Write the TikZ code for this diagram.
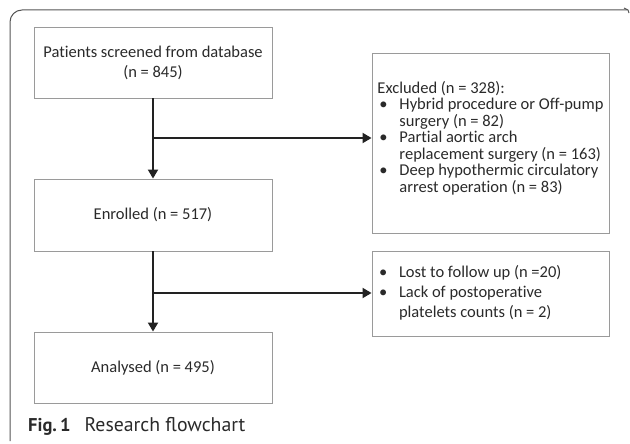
\documentclass[tikz,border=0pt]{standalone}
\usepackage{fontspec}
\setmainfont{Carlito}[Ligatures=NoCommon]
\newfontfamily\capfont{PT Sans}
\usetikzlibrary{arrows.meta}
\definecolor{txt}{HTML}{2A2A2A}
\definecolor{boxline}{HTML}{9A9A9A}
\definecolor{arrowc}{HTML}{222222}
\definecolor{framec}{HTML}{555555}
\newcommand{\bl}{\makebox[22pt][l]{\hspace{2pt}•}}
\newcommand{\ind}{\hspace{22pt}}
\tikzset{
  flowbox/.style={draw=boxline, line width=0.9pt, text=txt, font=\fontsize{16.5}{20}\selectfont,
    minimum width=238pt, align=center, inner sep=0pt},
  sidebox/.style={draw=boxline, line width=0.9pt, text=txt,
    minimum width=237pt, inner sep=0pt},
  flowarrow/.style={draw=arrowc, line width=2pt, -{Triangle[length=9pt,width=10pt]}},
  frameline/.style={draw=framec, line width=1pt},
}
\begin{document}
\begin{tikzpicture}[x=1pt,y=-1pt]
\useasboundingbox (0,0) rectangle (630,444);
% open frame
\draw[frameline, rounded corners=12pt] (10,441) -- (10,10) -- (627,10);
\draw[frameline] (624,8) -- (628,10) -- (629,13);
% main boxes
\node[flowbox, minimum height=71pt] (screen) at (153,62.5) {Patients screened from database\\(n = 845)};
\node[flowbox, minimum height=72pt] (enrol) at (153,215) {Enrolled (n = 517)};
\node[flowbox, minimum height=71pt] (anal) at (153,367.5) {Analysed (n = 495)};
% side boxes
\node[sidebox, minimum height=180pt, font=\fontsize{16.5}{15.8}\selectfont] (excl) at (490.5,143) {\raisebox{3.5pt}[\height][\depth]{\begin{tabular}{@{}l@{}}Excluded (n = 328):\\
\bl Hybrid procedure or Off-pump\\
\ind surgery (n = 82)\\
\bl Partial aortic arch\\
\ind replacement surgery (n = 163)\\
\bl Deep hypothermic circulatory\\
\ind arrest operation (n = 83)\end{tabular}}};
\node[sidebox, minimum height=85pt, font=\fontsize{16.5}{20}\selectfont] (lost) at (490.5,293.5) {\begin{tabular}{@{}p{227pt}@{}}\bl Lost to follow up (n =20)\\
\bl Lack of postoperative\\
\ind platelets counts (n = 2)\end{tabular}};
% connectors
\coordinate (j1) at (153,138);
\coordinate (j2) at (153,293);
\draw[flowarrow] (screen.south) -- (enrol.north);
\draw[flowarrow] (j1) -- (j1 -| excl.west);
\draw[flowarrow] (enrol.south) -- (anal.north);
\draw[flowarrow] (j2) -- (j2 -| lost.west);
% caption
\node[anchor=base west, inner sep=0pt, text=txt, font=\capfont\fontsize{18.5}{20}\selectfont] (cap) at (28,431) {\textbf{Fig.\,1}\hspace{14pt}{\fontsize{19.8}{20}\selectfont Research flowchart}};
\end{tikzpicture}
\end{document}
